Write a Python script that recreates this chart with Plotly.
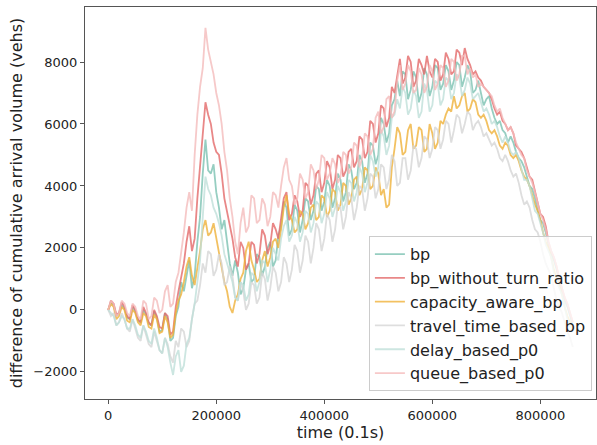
import plotly.graph_objects as go

# time samples (0.1 s units), every 5000
time = list(range(0, 865000, 5000))

bp = [0, 250, 150, -200, -100, 150, 50, -250, -300, 100,
      -50, -350, -400, 0, -150, -450, -500, -50, -250, -700,
      -650, -100, -300, -1000, -900, -200, 100, 900, 600, 1100,
      1600, 700, 1100, 2200, 3000, 4400, 5500, 4500, 4400, 4700,
      3800, 3300, 2600, 2900, 2100, 1500, 1100, 1600, 1200, 500,
      700, 1300, 1500, 900, 1000, 1800, 1700, 1100, 1400, 2000,
      2200, 1400, 1600, 2400, 2700, 3500, 3300, 2400, 2600, 3400,
      3200, 2500, 2900, 3600, 3500, 2900, 3200, 4000, 3900, 3200,
      3500, 4200, 4000, 3300, 3600, 4400, 4200, 3500, 3800, 4700,
      4500, 3900, 4100, 5000, 4800, 4100, 4400, 5400, 5300, 4700,
      5000, 6200, 6000, 5400, 5700, 6600, 6800, 7400, 6900, 7700,
      7600, 6800, 7100, 7700, 7500, 6700, 7000, 7800, 7600, 6900,
      7200, 7900, 7800, 7100, 7300, 7900, 7700, 7100, 7400, 8000,
      7900, 7200, 7500, 7900, 7700, 7000, 7100, 7400, 7000, 6600,
      6800, 6900, 6500, 6200, 6000, 6100, 5800, 5700, 5400, 5600,
      5400, 5100, 4900, 4800, 4600, 4300, 4000, 3900, 3600, 3200,
      2900, 2800, 2500, 2100, 1800, 1600, 1300, 900, 600, 300,
      100, -200, -500]

bp_without_turn_ratio = [0, 300, 200, -150, -100, 250, 100, -200, -300, 150,
      0, -300, -400, 100, -100, -400, -500, 0, -200, -550,
      -600, -100, -200, -800, -700, 100, 600, 1100, 1500, 2200,
      2700, 1900, 2300, 3600, 4600, 5800, 6700, 6300, 6000, 5400,
      5100, 5000, 4400, 3600, 3200, 2800, 2300, 1700, 1400, 2200,
      2000, 1300, 1500, 2200, 2100, 1500, 1800, 2600, 2400, 1800,
      2100, 2800, 2600, 2300, 3000, 3600, 3800, 2900, 3100, 3700,
      3500, 3000, 3200, 4100, 4000, 3400, 3700, 4400, 4500, 3800,
      4100, 4800, 4600, 3900, 4200, 5000, 4900, 4300, 4500, 5100,
      5200, 4600, 4800, 5600, 5500, 4900, 5100, 6100, 6000, 5400,
      5700, 6600, 6500, 5900, 6200, 7200, 7000, 7500, 8100, 7300,
      7500, 8200, 8000, 7200, 7400, 8100, 7900, 7600, 8200, 7700,
      7500, 8100, 8000, 7400, 7600, 8300, 8100, 7600, 7700, 8400,
      8300, 7900, 8450, 8100, 7900, 7600, 7700, 7500, 7400, 7200,
      7100, 7000, 6800, 6500, 6300, 6400, 6100, 6000, 5800, 5900,
      5700, 5300, 5200, 5100, 4900, 4600, 4300, 4200, 3800, 3400,
      3100, 3000, 2700, 2200, 1900, 1700, 1400, 1000, 700, 400,
      200, -100, -400]

capacity_aware_bp = [0, 200, 100, -300, -200, 100, 0, -350, -400, 0,
      -100, -400, -500, -100, -200, -550, -600, -150, -300, -750,
      -700, -200, -400, -900, -800, -100, 300, 500, 900, 1400,
      1700, 1100, 800, 1300, 1900, 2600, 2900, 2400, 2500, 2800,
      2300, 1800, 1400, 900, 600, 100, -100, 300, 500, 1000,
      1200, 1900, 2200, 1600, 1300, 900, 1000, 1600, 1900, 1400,
      1700, 2200, 2300, 2000, 2600, 3300, 3700, 3100, 2900, 2500,
      2600, 3200, 3100, 2600, 2800, 3300, 3400, 2900, 3000, 3700,
      3600, 3000, 3200, 3900, 3800, 3200, 3400, 4100, 4000, 3400,
      3600, 4200, 4300, 3700, 3900, 4600, 4500, 3900, 4000, 4600,
      4400, 3700, 3900, 3300, 3400, 4600, 5200, 5900, 5700, 5000,
      5100, 5800, 6000, 5200, 5300, 5900, 5800, 5100, 5200, 6000,
      5700, 5200, 5400, 6100, 6000, 6300, 6500, 6400, 6900, 6500,
      6600, 6900, 7000, 6400, 6500, 6800, 6700, 6300, 6200, 6300,
      6100, 5800, 5700, 5800, 5600, 5300, 5200, 5400, 5300, 5000,
      4900, 5000, 4800, 4500, 4300, 4200, 4000, 3700, 3400, 3200,
      2900, 2500, 2200, 2000, 1700, 1300, 1000, 800, 500, 100,
      -200, -400, -600]

travel_time_based_bp = [0, -200, -100, -500, -400, -100, -300, -600, -700, -300,
      -600, -900, -1000, -500, -800, -1100, -1200, -700, -1000, -1300,
      -1400, -900, -1100, -1500, -1700, -1000, -1200, -600, -700, -1200,
      -1000, -300, 200, 300, 800, 1500, 1200, 1900, 1800, 1100,
      1300, 1800, 1500, 800, 900, 1400, 1100, 400, 300, 900,
      600, 0, 200, 900, 800, 200, 400, 1200, 1000, 300,
      700, 1400, 1200, 600, 900, 1700, 1500, 900, 1300, 2100,
      1900, 1200, 1600, 2400, 2200, 1500, 2000, 2800, 2600, 1900,
      2300, 3100, 2900, 2200, 2600, 3400, 3300, 2600, 3000, 3800,
      3600, 2900, 3300, 4000, 3900, 3200, 3600, 4400, 4300, 3600,
      3900, 4700, 4600, 3900, 4200, 5000, 4800, 4000, 4100, 4900,
      4900, 4200, 4500, 5300, 5200, 4600, 4900, 5600, 5500, 4900,
      5200, 5900, 5800, 5200, 5500, 6100, 6000, 5400, 5800, 6300,
      6200, 5700, 6000, 6400, 6300, 5800, 6000, 6100, 5900, 5600,
      5700, 5500, 5300, 5400, 5200, 4900, 4800, 5000, 4800, 4500,
      4300, 4400, 4100, 3700, 3400, 3500, 3300, 2900, 2600, 2500,
      2200, 1800, 1500, 1300, 1100, 700, 300, 100, -100, -400,
      -700, -900, -1200]

delay_based_p0 = [0, -100, -200, -500, -400, -200, -300, -600, -600, -300,
      -500, -800, -900, -500, -700, -1000, -1100, -600, -900, -1300,
      -1400, -900, -1200, -1700, -2100, -1500, -1300, -2000, -1800, -1100,
      -900, -300, 200, 900, 1600, 3000, 4300, 3900, 3700, 3300,
      3100, 2800, 2400, 1800, 1500, 1200, 900, 400, 300, 900,
      800, 300, 500, 1200, 1100, 600, 900, 1600, 1500, 900,
      1300, 2000, 1800, 1600, 2300, 2700, 2900, 2200, 2400, 3000,
      2800, 2200, 2500, 3200, 3100, 2500, 2800, 3500, 3400, 2800,
      3100, 3800, 3600, 3000, 3300, 4000, 3800, 3200, 3500, 4200,
      4100, 3500, 3800, 4600, 4400, 3800, 4100, 5000, 4800, 4300,
      4600, 5800, 5600, 5000, 5300, 6200, 6300, 6800, 6500, 7200,
      7000, 6300, 6500, 7100, 6900, 6200, 6400, 7300, 7100, 6400,
      6600, 7400, 7300, 6600, 6800, 7500, 7400, 6800, 7000, 7600,
      7500, 6900, 7100, 7500, 7300, 6800, 6900, 7000, 6700, 6400,
      6500, 6300, 6000, 6100, 5900, 5600, 5400, 5600, 5400, 5100,
      5000, 5100, 4900, 4500, 4200, 4200, 4000, 3600, 3200, 3100,
      2800, 2500, 2100, 1900, 1700, 1200, 900, 700, 500, 100,
      -300, -500, -700]

queue_based_p0 = [0, 300, 200, -200, -100, 300, 200, -100, -200, 200,
      100, -200, -300, 300, 200, -300, -200, 400, 300, -100,
      0, 600, 800, 100, 200, 900, 1200, 1800, 2500, 3300,
      3800, 3200, 5000, 6300, 7200, 7800, 9100, 8400, 8000, 7600,
      7000, 6600, 6000, 5100, 4500, 3600, 3000, 2200, 1800, 2800,
      3300, 2500, 2700, 3700, 3600, 2800, 2900, 3600, 3400, 2700,
      3000, 3800, 3700, 3300, 4000, 4600, 4900, 4200, 4000, 3400,
      3600, 4400, 4200, 3600, 3800, 4700, 4500, 3900, 4200, 5000,
      4900, 4200, 4400, 4900, 4700, 4100, 4300, 5100, 5000, 4400,
      4600, 5400, 5300, 4600, 4900, 5700, 5600, 5000, 5200, 6200,
      6400, 5700, 5900, 6800, 6900, 6200, 6400, 7400, 7900, 7100,
      7300, 7900, 7700, 7000, 7100, 7800, 7600, 7000, 7200, 7900,
      7700, 7100, 7300, 7900, 7800, 7200, 7400, 8100, 8000, 7400,
      7600, 8200, 8200, 7600, 7800, 7500, 7600, 7200, 7300, 7200,
      7100, 7000, 6900, 6600, 6400, 6500, 6200, 6000, 5800, 5900,
      5700, 5400, 5200, 5000, 4900, 4500, 4300, 4100, 3800, 3400,
      3100, 2900, 2600, 2200, 1900, 1700, 1400, 1000, 700, 400,
      200, -100, -400]

series = [
    ("bp", bp, "#7cc2b2"),
    ("bp_without_turn_ratio", bp_without_turn_ratio, "#e46a6a"),
    ("capacity_aware_bp", capacity_aware_bp, "#f0b23a"),
    ("travel_time_based_bp", travel_time_based_bp, "#d6d6d6"),
    ("delay_based_p0", delay_based_p0, "#c0e0da"),
    ("queue_based_p0", queue_based_p0, "#f5bcbc"),
]

fig = go.Figure()
for name, vals, col in series:
    fig.add_trace(go.Scatter(x=time, y=vals, mode="lines", name=name,
                             line=dict(color=col, width=1.8), opacity=0.8))

axis_common = dict(showline=True, linecolor="#555555", linewidth=1.2, mirror=True,
                   ticks="outside", ticklen=4, tickcolor="#555555", showgrid=False,
                   zeroline=False, automargin=False,
                   tickfont=dict(family="DejaVu Sans", size=13, color="#222222"))

fig.update_layout(
    width=597, height=445,
    margin=dict(l=85, r=1, t=7, b=46),
    paper_bgcolor="white", plot_bgcolor="white",
    font=dict(family="DejaVu Sans", color="#222222"),
    xaxis=dict(range=[-43000, 903000], tickvals=[0, 200000, 400000, 600000, 800000],
               tickformat="d",
               title=dict(text="time (0.1s)", font=dict(size=16), standoff=4), **axis_common),
    yaxis=dict(range=[-2875, 9775], tickvals=[-2000, 0, 2000, 4000, 6000, 8000],
               tickformat="d",
               title=dict(text="difference of cumulative arrival volume (vehs)", font=dict(size=16), standoff=6),
               **axis_common),
    legend=dict(x=0.992, y=0.02, xanchor="right", yanchor="bottom",
                bgcolor="rgba(255,255,255,0.8)", bordercolor="#cccccc", borderwidth=1,
                font=dict(size=16, family="DejaVu Sans", color="#222222")),
    showlegend=True,
)

fig.write_html("out.html", config={"displayModeBar": False},
               post_script="document.body.style.margin='0';document.body.style.padding='0';")
